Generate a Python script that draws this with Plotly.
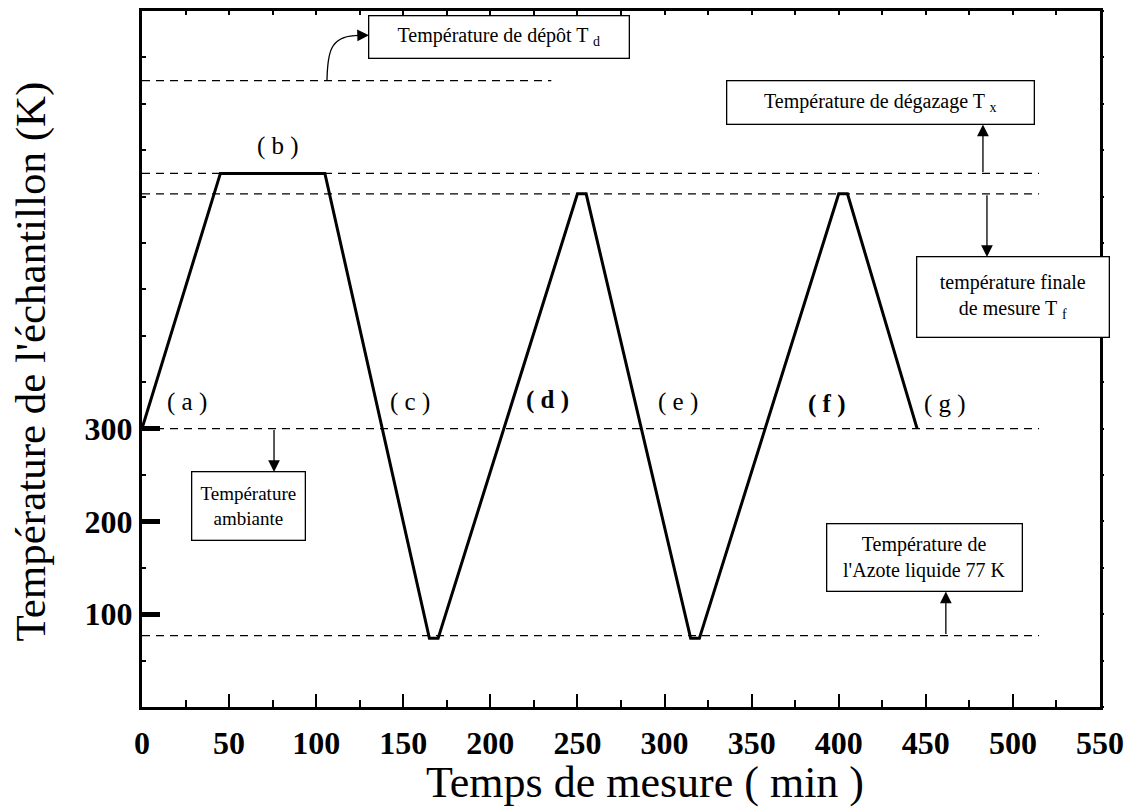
import plotly.graph_objects as go

# Temperature cycle of the sample (time in min, temperature in K)
temps_min = [0, 45, 105, 165, 170, 250, 255, 315, 320, 400, 405, 445]
temperature_k = [300, 575, 575, 74, 74, 553, 553, 74, 74, 553, 553, 300]

# Reference levels (K) and how far along the time axis each dashed line runs
t_depot = 675
t_degazage = 575
t_finale = 553
t_ambiante = 300
t_azote = 77
level_values = [t_depot, t_degazage, t_finale, t_ambiante, t_azote]
level_ends = [235, 515, 515, 515, 515]

# Phase labels
phase_text = ["( a )", "( b )", "( c )", "<b>( d )</b>", "( e )", "<b>( f )</b>", "( g )"]
phase_x = [26, 78, 154, 233, 308, 393, 461]
phase_y = [329, 605, 329, 331, 329, 326, 326]

x_ticks = list(range(0, 551, 50))
y_ticks = [100, 200, 300]

SERIF = "Liberation Serif"

fig = go.Figure()

for lvl, end in zip(level_values, level_ends):
    fig.add_trace(go.Scatter(
        x=[0, end], y=[lvl, lvl], mode="lines",
        line=dict(color="black", width=1.3, dash="8px,6px"),
        hoverinfo="skip", showlegend=False,
    ))

fig.add_trace(go.Scatter(
    x=temps_min, y=temperature_k, mode="lines",
    line=dict(color="black", width=3), showlegend=False,
))

# invisible trace carrying the top/right tick axes
fig.add_trace(go.Scatter(
    x=[0, 550], y=[0, 750], xaxis="x2", yaxis="y2", mode="markers",
    marker=dict(opacity=0), hoverinfo="skip", showlegend=False,
))

for txt, x, y in zip(phase_text, phase_x, phase_y):
    fig.add_annotation(x=x, y=y, text=txt, showarrow=False,
                       font=dict(family=SERIF, size=25, color="black"))


def boxed(text, x, y, w, h, size=20):
    fig.add_annotation(x=x, y=y, text=text, showarrow=False,
                       width=w, height=h, bgcolor="white",
                       bordercolor="black", borderwidth=1.3, borderpad=0,
                       font=dict(family=SERIF, size=size, color="black"),
                       align="center", valign="middle")


def arrow(x, y_from, y_to):
    fig.add_annotation(x=x, y=y_to, ax=x, ay=y_from, axref="x", ayref="y",
                       text="", showarrow=True, arrowhead=2, arrowsize=1.8,
                       arrowwidth=1.3, arrowcolor="black")


boxed("Température de dépôt T <sub>d</sub>", 205.2, 721.6, 259, 41)
boxed("Température de dégazage T <sub>x</sub>", 423.7, 651.3, 306, 42)
boxed("température finale<br>de mesure T <sub>f</sub>", 500.3, 441.5, 191, 79)
boxed("Température<br>ambiante", 60.9, 216.2, 112, 67, size=19)
boxed("Température de<br>l'Azote liquide 77 K", 449.5, 161, 194, 66)

arrow(482.8, t_degazage, 627.7)
arrow(485.1, t_finale, 485)
arrow(75.8, t_ambiante, 253.2)
arrow(461.5, t_azote, 124.5)

# curved arrow from the deposition line to its box
fig.add_shape(type="path",
              path="M 106.2,675 C 106.5,705 108,722 122,723.5",
              xref="x", yref="y", line=dict(color="black", width=1.3))
fig.add_annotation(x=130.3, y=724, ax=121, ay=723.5, axref="x", ayref="y",
                   text="", showarrow=True, arrowhead=2, arrowsize=1.8,
                   arrowwidth=1.3, arrowcolor="black")

# axis titles
fig.add_annotation(x=0.525, y=-0.1087, xref="paper", yref="paper",
                   text="Temps de mesure ( min )", showarrow=False,
                   xanchor="center", yanchor="middle",
                   font=dict(family=SERIF, size=44, color="black"))
fig.add_annotation(x=-0.1169, y=0.4964, xref="paper", yref="paper",
                   text="Température de l'échantillon (K)", showarrow=False,
                   textangle=-90, xanchor="center", yanchor="middle",
                   font=dict(family=SERIF, size=43, color="black"))

fig.update_layout(
    width=1132, height=812,
    margin=dict(l=142, r=32, t=8, b=105),
    paper_bgcolor="white", plot_bgcolor="white",
    showlegend=False,
    xaxis=dict(
        range=[0, 550], tickvals=x_ticks, ticks="inside", ticklen=13,
        tickwidth=2, tickcolor="black", showgrid=False, zeroline=False,
        showline=True, linewidth=3, linecolor="black", mirror=True,
        ticklabelstandoff=6,
        tickfont=dict(family=SERIF, size=32, color="black", weight="bold"),
        minor=dict(ticks="inside", dtick=25, tick0=0, ticklen=7,
                   tickwidth=1.5, tickcolor="black", showgrid=False),
    ),
    yaxis=dict(
        range=[0, 750], tickvals=y_ticks, ticks="inside", ticklen=18,
        tickwidth=5, tickcolor="black", showgrid=False, zeroline=False,
        showline=True, linewidth=3, linecolor="black", mirror=True,
        tickfont=dict(family=SERIF, size=32, color="black", weight="bold"),
        minor=dict(ticks="inside", dtick=50, tick0=0, ticklen=4,
                   tickwidth=1.5, tickcolor="black", showgrid=False),
    ),
    xaxis2=dict(
        range=[0, 550], overlaying="x", side="top", anchor="y",
        ticks="inside", dtick=25, tick0=0, ticklen=4, tickwidth=1.5,
        tickcolor="black", showticklabels=False, showgrid=False,
        zeroline=False, showline=False,
    ),
    yaxis2=dict(
        range=[0, 750], overlaying="y", side="right", anchor="x",
        ticks="outside", dtick=50, tick0=0, ticklen=3, tickwidth=1.5,
        tickcolor="black", showticklabels=False, showgrid=False,
        zeroline=False, showline=False,
    ),
)

fig.write_html("out.html")
